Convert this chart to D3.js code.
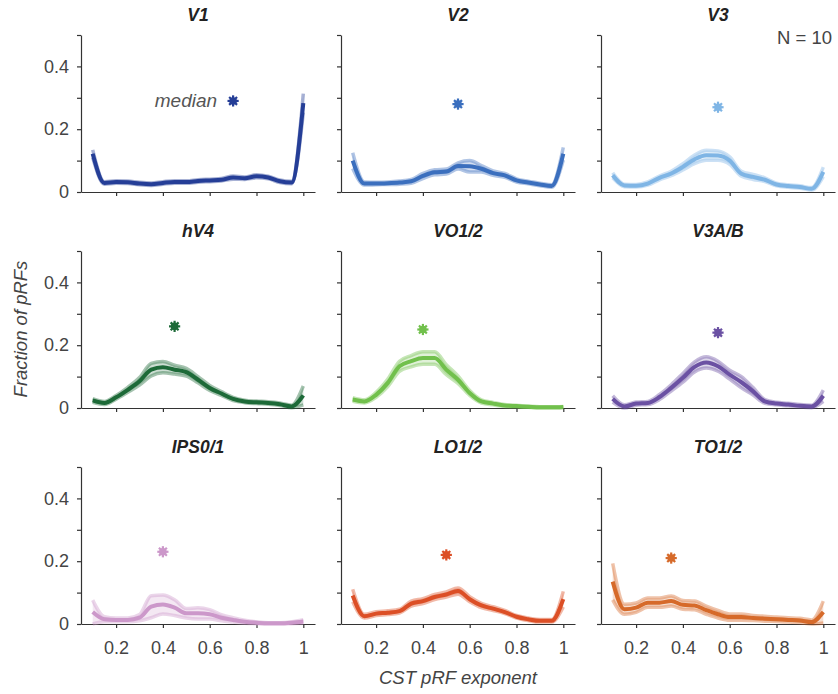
<!DOCTYPE html>
<html>
<head>
<meta charset="utf-8">
<script src="https://cdn.jsdelivr.net/npm/d3@7"></script>
<style>
  body { margin: 0; background: #fff; }
  svg text { font-family: "Liberation Sans", Arial, Helvetica, sans-serif; }
  .tick text { fill: #444; font-size: 18px; }
  .tick line, .domain { stroke: #333; stroke-width: 1.2; }
</style>
</head>
<body>
<svg id="chart" width="838" height="694"></svg>
<script>
// CST pRF exponent bins
const exponents = [0.1, 0.15, 0.2, 0.25, 0.3, 0.35, 0.4, 0.45, 0.5, 0.55, 0.6, 0.65, 0.7, 0.75, 0.8, 0.85, 0.9, 0.95, 1.0];

const regions = ['V1', 'V2', 'V3', 'hV4', 'VO1/2', 'V3A/B', 'IPS0/1', 'LO1/2', 'TO1/2'];
const regionColors = ['#253e97', '#3b6fbe', '#7fb5e5', '#1d6a38', '#71c04c', '#6b51a3', '#cc98ca', '#dc4f26', '#d66a2a'];

// mean fraction of pRFs per bin
const meanV1 = [0.122, 0.029, 0.032, 0.031, 0.027, 0.025, 0.029, 0.032, 0.032, 0.035, 0.037, 0.039, 0.046, 0.044, 0.05, 0.046, 0.034, 0.03, 0.283];
const meanV2 = [0.10, 0.027, 0.027, 0.028, 0.030, 0.034, 0.051, 0.063, 0.065, 0.083, 0.082, 0.074, 0.06, 0.053, 0.037, 0.03, 0.024, 0.019, 0.122];
const meanV3 = [0.053, 0.021, 0.020, 0.027, 0.045, 0.059, 0.08, 0.104, 0.117, 0.116, 0.10, 0.058, 0.048, 0.039, 0.024, 0.019, 0.016, 0.01, 0.064];
const meanHV4 = [0.024, 0.016, 0.034, 0.058, 0.085, 0.122, 0.13, 0.122, 0.114, 0.09, 0.064, 0.046, 0.029, 0.021, 0.018, 0.016, 0.012, 0.005, 0.04];
const meanVO = [0.027, 0.021, 0.042, 0.08, 0.133, 0.149, 0.159, 0.159, 0.122, 0.09, 0.048, 0.021, 0.014, 0.008, 0.006, 0.004, 0.002, 0.002, 0.003];
const meanV3AB = [0.029, 0.005, 0.014, 0.016, 0.035, 0.064, 0.096, 0.131, 0.145, 0.133, 0.106, 0.082, 0.053, 0.021, 0.014, 0.011, 0.007, 0.005, 0.039];
const meanIPS = [0.038, 0.015, 0.013, 0.013, 0.02, 0.055, 0.062, 0.052, 0.034, 0.034, 0.031, 0.02, 0.013, 0.007, 0.004, 0.002, 0.002, 0.004, 0.008];
const meanLO = [0.091, 0.025, 0.033, 0.036, 0.041, 0.065, 0.073, 0.086, 0.094, 0.105, 0.079, 0.059, 0.049, 0.038, 0.023, 0.015, 0.01, 0.01, 0.079];
const meanTO = [0.135, 0.047, 0.052, 0.068, 0.068, 0.073, 0.061, 0.059, 0.044, 0.031, 0.022, 0.022, 0.019, 0.017, 0.015, 0.013, 0.011, 0.006, 0.038];

// standard error per bin
const seV1 = [0.012, 0.004, 0.004, 0.004, 0.004, 0.004, 0.004, 0.004, 0.004, 0.004, 0.004, 0.004, 0.005, 0.004, 0.005, 0.004, 0.004, 0.004, 0.03];
const seV2 = [0.025, 0.005, 0.004, 0.004, 0.005, 0.006, 0.008, 0.008, 0.008, 0.01, 0.018, 0.01, 0.007, 0.006, 0.005, 0.004, 0.004, 0.004, 0.02];
const seV3 = [0.008, 0.004, 0.004, 0.005, 0.006, 0.007, 0.01, 0.014, 0.016, 0.015, 0.012, 0.008, 0.008, 0.006, 0.004, 0.004, 0.004, 0.004, 0.015];
const seHV4 = [0.006, 0.005, 0.006, 0.008, 0.012, 0.02, 0.018, 0.014, 0.012, 0.01, 0.008, 0.006, 0.005, 0.004, 0.004, 0.004, 0.004, 0.004, 0.03];
const seVO = [0.006, 0.005, 0.008, 0.012, 0.016, 0.018, 0.02, 0.02, 0.016, 0.012, 0.008, 0.005, 0.004, 0.003, 0.003, 0.002, 0.002, 0.002, 0.002];
const seV3AB = [0.01, 0.005, 0.005, 0.005, 0.008, 0.01, 0.014, 0.016, 0.018, 0.016, 0.014, 0.018, 0.012, 0.006, 0.004, 0.004, 0.004, 0.004, 0.018];
const seIPS = [0.038, 0.008, 0.006, 0.006, 0.01, 0.035, 0.03, 0.025, 0.015, 0.018, 0.015, 0.01, 0.007, 0.005, 0.003, 0.002, 0.002, 0.003, 0.006];
const seLO = [0.02, 0.006, 0.006, 0.006, 0.006, 0.008, 0.008, 0.008, 0.008, 0.01, 0.008, 0.007, 0.006, 0.005, 0.004, 0.004, 0.004, 0.004, 0.025];
const seTO = [0.058, 0.016, 0.015, 0.015, 0.015, 0.016, 0.014, 0.014, 0.013, 0.012, 0.01, 0.01, 0.008, 0.008, 0.007, 0.007, 0.007, 0.007, 0.035];

const means = [meanV1, meanV2, meanV3, meanHV4, meanVO, meanV3AB, meanIPS, meanLO, meanTO];
const ses = [seV1, seV2, seV3, seHV4, seVO, seV3AB, seIPS, seLO, seTO];

// median exponent (x) and where the star is drawn (y)
const medianX = [0.70, 0.55, 0.55, 0.45, 0.40, 0.55, 0.40, 0.50, 0.35];
const medianY = [0.29, 0.28, 0.27, 0.26, 0.25, 0.24, 0.23, 0.22, 0.21];

const yTicks = [0, 0.1, 0.2, 0.3, 0.4, 0.5];
const xTicks = [0.2, 0.4, 0.6, 0.8, 1];

const svg = d3.select('#chart');
const colX = [81, 341, 601];
const rowY = [35, 251, 467];
const pw = 234;
const ph = 157;

const x = d3.scaleLinear().domain([0.05, 1.05]).range([0, pw]);
const y = d3.scaleLinear().domain([0, 0.5]).range([ph, 0]);

const fmt = d => (d === 0 ? '0' : d === 1 ? '1' : d3.format('.1f')(d));

regions.forEach((name, i) => {
  const col = i % 3;
  const row = Math.floor(i / 3);
  const g = svg.append('g').attr('transform', `translate(${colX[col]},${rowY[row]})`);
  const color = regionColors[i];
  const pts = exponents.map((e, k) => ({ x: e, m: means[i][k], s: ses[i][k] }));

  // axes
  g.append('g')
    .attr('transform', `translate(0,${ph})`)
    .call(d3.axisBottom(x).tickValues(xTicks).tickSize(4).tickSizeOuter(0).tickPadding(13)
      .tickFormat(d => (row === 2 ? fmt(d) : '')));
  g.append('g')
    .call(d3.axisLeft(y).tickValues(yTicks).tickSize(4).tickSizeOuter(0).tickPadding(8)
      .tickFormat(d => (col === 0 && [0, 0.2, 0.4].includes(d) ? fmt(d) : '')));

  // band (mean +/- se)
  const curve = d3.curveMonotoneX;
  g.append('path')
    .datum(pts)
    .attr('fill', color)
    .attr('fill-opacity', 0.22)
    .attr('d', d3.area().curve(curve).x(d => x(d.x)).y0(d => y(Math.max(0, d.m - d.s))).y1(d => y(d.m + d.s)));
  [1, -1].forEach(sign => {
    g.append('path')
      .datum(pts)
      .attr('fill', 'none')
      .attr('stroke', color)
      .attr('stroke-opacity', 0.4)
      .attr('stroke-width', 3.5)
      .attr('stroke-linejoin', 'round')
      .attr('d', d3.line().curve(curve).x(d => x(d.x)).y(d => y(Math.max(0, d.m + sign * d.s))));
  });

  // mean line
  g.append('path')
    .datum(pts)
    .attr('fill', 'none')
    .attr('stroke', color)
    .attr('stroke-width', 4)
    .attr('stroke-linejoin', 'round')
    .attr('d', d3.line().curve(curve).x(d => x(d.x)).y(d => y(d.m)));

  // median star
  const star = g.append('g').attr('transform', `translate(${x(medianX[i])},${y(medianY[i])})`);
  star.append('circle').attr('r', 3.8).attr('fill', color);
  [0, 45, 90, 135].forEach(a => {
    const r = 5.6;
    const rad = (a * Math.PI) / 180;
    star.append('line')
      .attr('x1', -r * Math.cos(rad)).attr('y1', -r * Math.sin(rad))
      .attr('x2', r * Math.cos(rad)).attr('y2', r * Math.sin(rad))
      .attr('stroke', color).attr('stroke-width', 2.2);
  });

  // title
  g.append('text')
    .attr('x', pw / 2)
    .attr('y', -14)
    .attr('text-anchor', 'middle')
    .style('font-size', '17.5px')
    .style('font-weight', 'bold')
    .style('font-style', 'italic')
    .attr('fill', '#222')
    .text(name);

  if (i === 0) {
    g.append('text')
      .attr('x', x(medianX[i]) - 16)
      .attr('y', y(medianY[i]) + 6)
      .attr('text-anchor', 'end')
      .style('font-size', '19px')
      .style('font-style', 'italic')
      .attr('fill', '#555')
      .text('median');
  }
});

svg.append('text')
  .attr('x', 832)
  .attr('y', 44)
  .attr('text-anchor', 'end')
  .style('font-size', '18.5px')
  .attr('fill', '#444')
  .text('N = 10');

svg.append('text')
  .attr('transform', 'translate(27,329) rotate(-90)')
  .attr('text-anchor', 'middle')
  .style('font-size', '18.5px')
  .style('font-style', 'italic')
  .attr('fill', '#444')
  .text('Fraction of pRFs');

svg.append('text')
  .attr('x', colX[1] + pw / 2)
  .attr('y', 684)
  .attr('text-anchor', 'middle')
  .style('font-size', '18.5px')
  .style('font-style', 'italic')
  .attr('fill', '#444')
  .text('CST pRF exponent');
</script>
</body>
</html>
